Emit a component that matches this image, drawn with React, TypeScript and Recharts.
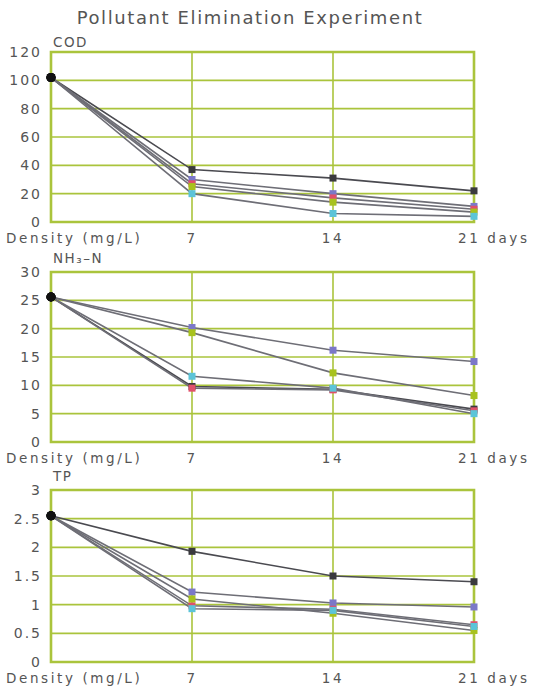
import { LineChart, Line, XAxis, YAxis, CartesianGrid, ReferenceArea } from 'recharts';

const days = [0, 7, 14, 21];
const seriesKeys = ['a', 'b', 'c', 'd', 'e'];
const markerColors = ['#3a3a3e', '#7b78c8', '#e0506a', '#a8c21e', '#5cc4d8'];

// COD
const codA = [102, 37, 31, 22];
const codB = [102, 30, 20, 11];
const codC = [102, 27, 17, 9];
const codD = [102, 25, 14, 7];
const codE = [102, 20, 6, 4];
const codTicks = [0, 20, 40, 60, 80, 100, 120];

// NH3-N
const nhA = [25.6, 9.8, 9.3, 5.8];
const nhB = [25.6, 20.2, 16.2, 14.2];
const nhC = [25.6, 9.5, 9.2, 5.5];
const nhD = [25.6, 19.3, 12.2, 8.2];
const nhE = [25.6, 11.6, 9.5, 5.0];
const nhTicks = [0, 5, 10, 15, 20, 25, 30];

// TP
const tpA = [2.55, 1.93, 1.5, 1.4];
const tpB = [2.55, 1.22, 1.03, 0.96];
const tpC = [2.55, 0.98, 0.92, 0.65];
const tpD = [2.55, 1.1, 0.85, 0.55];
const tpE = [2.55, 0.93, 0.9, 0.62];
const tpTicks = [0, 0.5, 1, 1.5, 2, 2.5, 3];

const xLabels = ['Density (mg/L)', '7', '14', '21 days'];

const GRID = '#aac43c';
const TEXT = '#555';
const FONT = '"DejaVu Sans", "Liberation Sans", sans-serif';

const toRows = (cols: number[][]) =>
  days.map((d, i) => {
    const row: Record<string, number> = { day: d };
    seriesKeys.forEach((k, j) => { row[k] = cols[j][i]; });
    return row;
  });

const XTick = ({ x, y, payload }: { x?: number; y?: number; payload?: { value: number; index: number } }) => {
  const i = days.indexOf(payload?.value ?? -1);
  const label = xLabels[i] ?? '';
  let anchor: 'start' | 'middle' = 'middle';
  let dx = 0;
  if (i === 0) { anchor = 'start'; dx = -45; }
  if (i === 3) { anchor = 'start'; dx = -16; }
  return (
    <text x={(x ?? 0) + dx} y={(y ?? 0) + 19} textAnchor={anchor} fill={TEXT}
      fontSize={13.5} fontFamily={FONT} letterSpacing={2.6}>
      {label}
    </text>
  );
};

const makeDot = (color: string) => (p: { cx?: number; cy?: number; index?: number }) => {
  const { cx = 0, cy = 0, index = 0 } = p;
  if (index === 0) return <circle key={index} cx={cx} cy={cy} r={4.5} fill="#111" />;
  return <rect key={index} x={cx - 3.5} y={cy - 3.5} width={7} height={7} fill={color} />;
};

type PanelProps = {
  plotTop: number; plotBottom: number; labelY: number; label: string;
  cols: number[][]; ticks: number[];
};

function Panel({ plotTop, plotBottom, labelY, label, cols, ticks }: PanelProps) {
  const padTop = 12;
  const axisH = 28;
  const h = padTop + (plotBottom - plotTop) + axisH;
  const rows = toRows(cols);
  const yMax = ticks[ticks.length - 1];
  return (
    <>
      <div style={{ position: 'absolute', left: 53, top: labelY - 9, fontFamily: FONT, fontSize: 13.5, color: TEXT, letterSpacing: 1.5 }}>
        {label}
      </div>
      <div style={{ position: 'absolute', left: 0, top: plotTop - padTop }}>
        <LineChart width={537} height={h} data={rows} margin={{ top: padTop, right: 63, left: 0, bottom: 0 }}>
          <CartesianGrid stroke={GRID} strokeWidth={1.6} horizontalValues={ticks} verticalValues={days} />
          <XAxis dataKey="day" type="number" domain={[0, 21]} ticks={days} height={axisH}
            axisLine={false} tickLine={false} tickSize={0} tick={<XTick />} interval={0} />
          <YAxis type="number" domain={[0, yMax]} ticks={ticks} width={51} interval={0}
            axisLine={false} tickLine={false} tickSize={0} tickMargin={9}
            tick={{ fontSize: 14, fill: TEXT, fontFamily: FONT, letterSpacing: 2 }} />
          <ReferenceArea x1={0} x2={21} y1={0} y2={yMax} fill="none" stroke={GRID} strokeWidth={2.6} ifOverflow="visible" />
          {seriesKeys.map((k, j) => (
            <Line key={k} dataKey={k} type="linear" stroke={j === 0 ? '#4a4a50' : '#6e6e76'} strokeWidth={1.6}
              dot={makeDot(markerColors[j])} activeDot={false} isAnimationActive={false} />
          ))}
        </LineChart>
      </div>
    </>
  );
}

export default function App() {
  return (
    <div style={{ position: 'absolute', left: 0, top: 0, width: 537, height: 692, background: '#fff', overflow: 'hidden' }}>
      <div style={{ position: 'absolute', left: 0, width: 500, top: 7, textAlign: 'center', fontFamily: FONT, fontSize: 18, color: TEXT, letterSpacing: 1.6 }}>
        Pollutant Elimination Experiment
      </div>
      <Panel plotTop={52} plotBottom={222} labelY={43} label="COD"
        cols={[codA, codB, codC, codD, codE]} ticks={codTicks} />
      <Panel plotTop={272} plotBottom={442} labelY={259} label="NH₃–N"
        cols={[nhA, nhB, nhC, nhD, nhE]} ticks={nhTicks} />
      <Panel plotTop={490} plotBottom={662} labelY={477} label="TP"
        cols={[tpA, tpB, tpC, tpD, tpE]} ticks={tpTicks} />
    </div>
  );
}
